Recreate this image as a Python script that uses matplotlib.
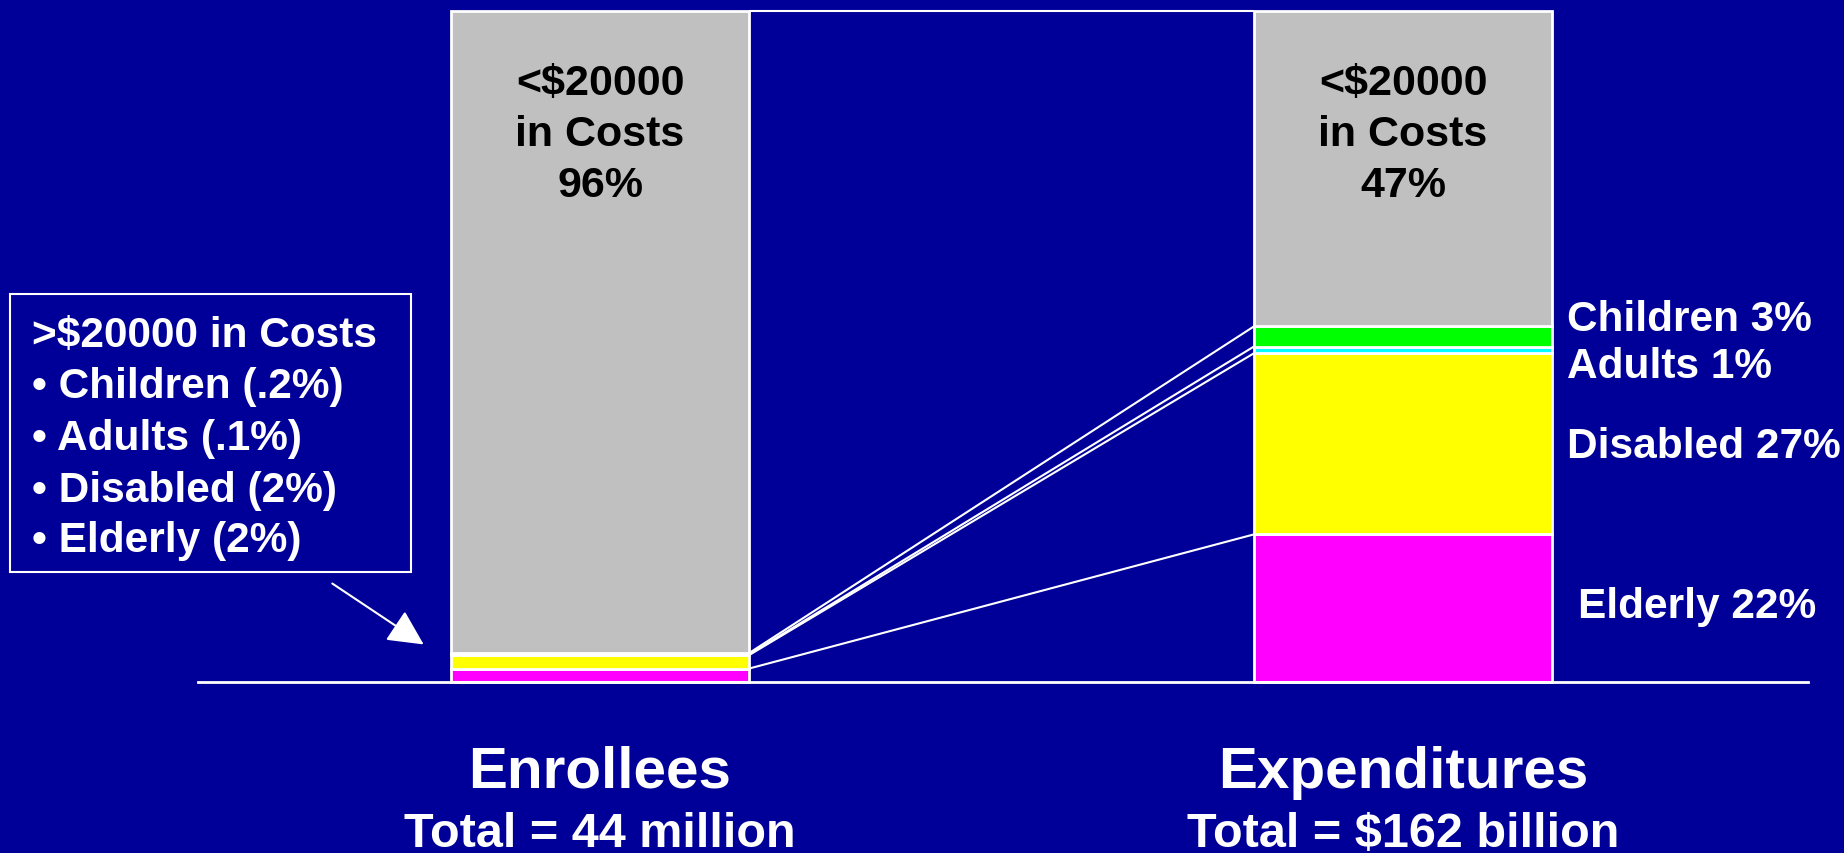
import matplotlib
matplotlib.use("Agg")
import matplotlib.pyplot as plt
from matplotlib.patches import Rectangle, FancyArrowPatch

# ---- data ----
columns = ["Enrollees", "Expenditures"]
column_totals = ["Total = 44 million", "Total = $162 billion"]
segments = ["Elderly", "Disabled", "Adults", "Children", "<$20000 in Costs"]
enrollees_pct = [2.0, 2.0, 0.1, 0.2, 95.7]
expenditures_pct = [22.0, 27.0, 1.0, 3.0, 47.0]
low_cost_labels = ["96%", "47%"]
right_labels = ["Elderly 22%", "Disabled 27%", "Adults 1%", "Children 3%"]
box_lines = [">$20000 in Costs", "\u2022 Children (.2%)", "\u2022 Adults (.1%)",
             "\u2022 Disabled (2%)", "\u2022 Elderly (2%)"]
seg_colors = ["#FF00FF", "#FFFF00", "#00FFFF", "#00FF00", "#C0C0C0"]

BG = "#000099"
FONT = "Liberation Sans"
W, H = 1844, 854

fig = plt.figure(figsize=(W / 100, H / 100), dpi=100, facecolor=BG)
ax = fig.add_axes([0, 0, 1, 1])
ax.set_facecolor(BG)
ax.axis("off")

# axis mapping: x positions 0,1 at px 600 and 1403; y 0 at px 683, 100 at px 12
px_per_x = 803.0
px_per_y = 671.0 / 100.0
x0_px, y0_px = 600.0, 683.0
ax.set_xlim(-x0_px / px_per_x, (W - x0_px) / px_per_x)
ax.set_ylim(-(H - y0_px) / px_per_y, 100 + 12 / px_per_y)

bar_w = 298 / px_per_x
positions = [0, 1]

tops = []
for pos, vals in zip(positions, [enrollees_pct, expenditures_pct]):
    bottom = 0.0
    t = []
    for v, c in zip(vals, seg_colors):
        ax.bar(pos, v, width=bar_w, bottom=bottom, color=c, edgecolor="white",
               linewidth=2, zorder=3)
        bottom += v
        t.append(bottom)
    tops.append(t)

# connector lines between segment tops
for tl, tr in zip(tops[0], tops[1]):
    ax.plot([positions[0] + bar_w / 2, positions[1] - bar_w / 2], [tl, tr],
            color="white", linewidth=1.5, zorder=2, solid_capstyle="butt")

# baseline
ax.plot([(198 - x0_px) / px_per_x, (1808 - x0_px) / px_per_x], [0, 0],
        color="white", linewidth=2, zorder=4)


def fx(px):
    return px / W


def fy(py):
    return 1 - py / H


# text inside gray segments
for pos, lab in zip(positions, low_cost_labels):
    cx = x0_px + pos * px_per_x
    for line, base in zip(["<$20000", "in Costs", lab], [95, 146, 197]):
        fig.text(fx(cx), fy(base), line, ha="center", va="baseline",
                 fontsize=31, fontweight="bold", color="black", family=FONT)

# right-side labels
for lab, base, xp in zip(right_labels, [618, 458, 378, 331], [1578, 1567, 1567, 1567]):
    fig.text(fx(xp), fy(base), lab, ha="left", va="baseline", fontsize=30.5,
             fontweight="bold", color="white", family=FONT)

# bottom labels
for pos, name, tot in zip(positions, columns, column_totals):
    cx = x0_px + pos * px_per_x
    fig.text(fx(cx), fy(788), name, ha="center", va="baseline", fontsize=42,
             fontweight="bold", color="white", family=FONT)
    fig.text(fx(cx), fy(847), tot, ha="center", va="baseline", fontsize=35,
             fontweight="bold", color="white", family=FONT)

# legend box
fig.patches.append(Rectangle((fx(10), fy(573)), fx(411) - fx(10), fy(295) - fy(573),
                             transform=fig.transFigure, facecolor="none",
                             edgecolor="white", linewidth=1.5))
for line, base in zip(box_lines, [347, 398, 450, 502, 552]):
    fig.text(fx(32), fy(base), line, ha="left", va="baseline", fontsize=30.5,
             fontweight="bold", color="white", family=FONT)

# arrow
fig.patches.append(FancyArrowPatch((fx(330), fy(583)), (fx(426), fy(647)),
                                   transform=fig.transFigure,
                                   arrowstyle="-|>,head_length=1.1,head_width=0.55",
                                   mutation_scale=20, color="white", linewidth=1.5))

fig.savefig("out.png", dpi=100, facecolor=BG)
